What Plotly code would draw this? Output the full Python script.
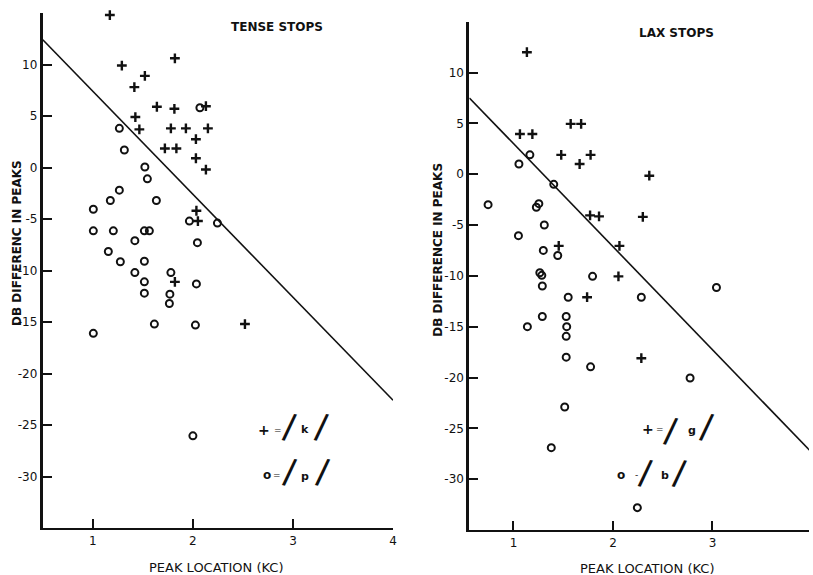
import plotly.graph_objects as go

# ---------------- data ----------------
tense_k_x = [1.17, 1.29, 1.82, 1.52, 1.415, 1.64, 1.815, 2.13, 1.425, 1.465, 1.78, 1.93, 2.15,
             2.03, 1.72, 1.835, 2.03, 2.13, 2.035, 2.05, 1.82, 2.52]
tense_k_y = [14.8, 9.9, 10.6, 8.9, 7.8, 5.9, 5.7, 5.95, 4.9, 3.7, 3.8, 3.8, 3.8,
             2.75, 1.85, 1.85, 0.9, -0.2, -4.2, -5.2, -11.1, -15.2]

tense_p_x = [2.07, 1.265, 1.315, 1.52, 1.545, 1.265, 1.175, 1.635, 1.005, 1.965, 2.245, 1.005,
             1.205, 1.515, 1.565, 1.42, 2.045, 1.155, 1.275, 1.515, 1.42, 1.78, 1.515, 2.035,
             1.515, 1.77, 1.765, 1.615, 2.025, 1.005, 2.0]
tense_p_y = [5.8, 3.8, 1.7, 0.05, -1.1, -2.2, -3.2, -3.2, -4.05, -5.2, -5.4, -6.15,
             -6.15, -6.15, -6.15, -7.1, -7.3, -8.15, -9.15, -9.1, -10.2, -10.2, -11.1, -11.3,
             -12.2, -12.3, -13.2, -15.2, -15.3, -16.1, -26.05]

lax_g_x = [1.135, 1.065, 1.19, 1.575, 1.68, 1.48, 1.775, 1.665, 2.365, 1.77, 1.86, 2.3,
           1.455, 2.065, 2.055, 1.74, 2.285]
lax_g_y = [12.0, 3.95, 3.95, 4.95, 4.95, 1.9, 1.9, 1.0, -0.15, -4.05, -4.15, -4.2,
           -7.05, -7.05, -10.05, -12.1, -18.1]

lax_b_x = [0.745, 1.055, 1.165, 1.405, 1.255, 1.23, 1.31, 1.05, 1.3, 1.445, 1.265, 1.285,
           1.795, 1.29, 3.04, 1.55, 2.285, 1.29, 1.53, 1.14, 1.535, 1.53, 1.53, 1.775,
           2.775, 1.515, 1.38, 2.245]
lax_b_y = [-3.0, 1.0, 1.9, -1.0, -2.9, -3.25, -5.0, -6.05, -7.5, -8.0, -9.7, -9.95,
           -10.05, -11.0, -11.15, -12.1, -12.1, -14.0, -14.0, -15.0, -15.0, -15.95, -18.0, -18.95,
           -20.05, -22.9, -26.9, -32.8]

tense_line_x = [0.5, 4.0]
tense_line_y = [12.4, -22.6]
lax_line_x = [0.557, 4.0]
lax_line_y = [7.5, -27.4]

y_ticks_left = [-30, -25, -20, -15, -10, -5, 0, 5, 10, 15]
y_text_left = ["-30", "-25", "-20", "-15", "-10", "-5", "0", "5", "10", ""]
y_ticks_right = [-30, -25, -20, -15, -10, -5, 0, 5, 10]
y_text_right = ["-30", "-25", "-20", "-15", "-10", "-5", "0", "5", "10"]
x_ticks = [1, 2, 3, 4]

# ---------------- figure ----------------
W, H = 813, 575
FONT = "DejaVu Sans"
BLACK = "#111111"

plus_marker = dict(symbol="cross-thin", size=7, line=dict(color=BLACK, width=2.4), color=BLACK)
circ_marker = dict(symbol="circle-open", size=7, line=dict(color=BLACK, width=2), color=BLACK)

fig = go.Figure()
fig.add_trace(go.Scatter(x=tense_line_x, y=tense_line_y, mode="lines",
                         line=dict(color=BLACK, width=1.6), xaxis="x", yaxis="y"))
fig.add_trace(go.Scatter(x=tense_k_x, y=tense_k_y, mode="markers", marker=plus_marker,
                         cliponaxis=False, xaxis="x", yaxis="y"))
fig.add_trace(go.Scatter(x=tense_p_x, y=tense_p_y, mode="markers", marker=circ_marker,
                         cliponaxis=False, xaxis="x", yaxis="y"))
fig.add_trace(go.Scatter(x=lax_line_x, y=lax_line_y, mode="lines",
                         line=dict(color=BLACK, width=1.6), xaxis="x2", yaxis="y2"))
fig.add_trace(go.Scatter(x=lax_g_x, y=lax_g_y, mode="markers", marker=plus_marker,
                         cliponaxis=False, xaxis="x2", yaxis="y2"))
fig.add_trace(go.Scatter(x=lax_b_x, y=lax_b_y, mode="markers", marker=circ_marker,
                         cliponaxis=False, xaxis="x2", yaxis="y2"))

def px_x(p):
    return p / W

def px_y(p):
    return 1 - p / H

tickfont = dict(family=FONT, size=12, color=BLACK)
axis_common = dict(showgrid=False, zeroline=False, showline=True, linecolor=BLACK,
                   ticks="inside", tickcolor=BLACK, tickfont=tickfont)

fig.update_layout(
    width=W, height=H, margin=dict(l=0, r=0, t=0, b=0),
    paper_bgcolor="white", plot_bgcolor="white", showlegend=False,
    xaxis=dict(axis_common, domain=[px_x(43), px_x(395)], range=[0.5, 4.0],
               tickvals=x_ticks, ticktext=[str(v) for v in x_ticks], ticklen=9, tickwidth=1.5,
               linewidth=2.2, anchor="y"),
    yaxis=dict(axis_common, domain=[px_y(528), px_y(13)], range=[-35, 15],
               tickvals=y_ticks_left, ticktext=y_text_left, ticklen=9, tickwidth=1.5,
               linewidth=3, anchor="x"),
    xaxis2=dict(axis_common, domain=[px_x(471.7), 1.0], range=[0.557, 3.97],
                tickvals=x_ticks, ticktext=[str(v) for v in x_ticks], ticklen=9, tickwidth=1.5,
                linewidth=2.2, anchor="y2"),
    yaxis2=dict(axis_common, domain=[px_y(530), px_y(21.7)], range=[-35, 15],
                tickvals=y_ticks_right, ticktext=y_text_right, ticklen=9, tickwidth=1.5,
                linewidth=3, anchor="x2"),
)

ann = []
def add_text(text, x, y, size=11, bold=False, angle=0, xref="paper", yref="paper", family=FONT):
    ann.append(dict(text=("<b>%s</b>" % text) if bold else text, x=x, y=y, xref=xref, yref=yref,
                    showarrow=False, textangle=angle, xanchor="center", yanchor="middle",
                    font=dict(family=family, size=size, color=BLACK)))

# panel titles
add_text("TENSE STOPS", px_x(278), px_y(27), size=12, bold=True)
add_text("LAX STOPS", px_x(680), px_y(33), size=12, bold=True)
# axis titles
add_text("PEAK LOCATION (KC)", px_x(217), px_y(567), size=13)
add_text("PEAK LOCATION (KC)", px_x(650), px_y(568), size=13)
add_text("DB DIFFERENC IN PEAKS", px_x(17), px_y(243), size=12, bold=True, angle=-90)
add_text("DB DIFFERENCE IN PEAKS", px_x(440), px_y(250), size=12, bold=True, angle=-90)

SL = 38   # slash font size
SA = 10   # slash tilt
SF = "Liberation Sans"
# key (legend) annotations, left panel
add_text("+", 2.707, -25.5, size=14, bold=True, xref="x", yref="y")
add_text("=", 2.849, -25.5, size=9, xref="x", yref="y")
add_text("/", 2.97, -25.3, size=SL, angle=SA, xref="x", yref="y", family=SF)
add_text("k", 3.124, -25.4, size=11, bold=True, xref="x", yref="y")
add_text("/", 3.288, -25.3, size=SL, angle=SA, xref="x", yref="y", family=SF)
add_text("o", 2.74, -29.9, size=12, bold=True, xref="x", yref="y")
add_text("=", 2.836, -29.9, size=9, xref="x", yref="y")
add_text("/", 2.968, -29.7, size=SL, angle=SA, xref="x", yref="y", family=SF)
add_text("p", 3.124, -30.0, size=11, bold=True, xref="x", yref="y")
add_text("/", 3.30, -29.7, size=SL, angle=SA, xref="x", yref="y", family=SF)

# key (legend) annotations, right panel
add_text("+", 2.357, -25.1, size=14, bold=True, xref="x2", yref="y2")
add_text("=", 2.47, -25.1, size=9, xref="x2", yref="y2")
add_text("/", 2.58, -25.4, size=SL, angle=SA, xref="x2", yref="y2", family=SF)
add_text("g", 2.79, -25.2, size=11, bold=True, xref="x2", yref="y2")
add_text("/", 2.94, -25.0, size=SL, angle=SA, xref="x2", yref="y2", family=SF)
add_text("o", 2.08, -29.6, size=12, bold=True, xref="x2", yref="y2")
add_text("-", 2.24, -29.6, size=9, xref="x2", yref="y2")
add_text("/", 2.33, -29.5, size=SL, angle=SA, xref="x2", yref="y2", family=SF)
add_text("b", 2.52, -29.6, size=11, bold=True, xref="x2", yref="y2")
add_text("/", 2.665, -29.5, size=SL, angle=SA, xref="x2", yref="y2", family=SF)

fig.update_layout(annotations=ann)
fig.write_html("out.html")
